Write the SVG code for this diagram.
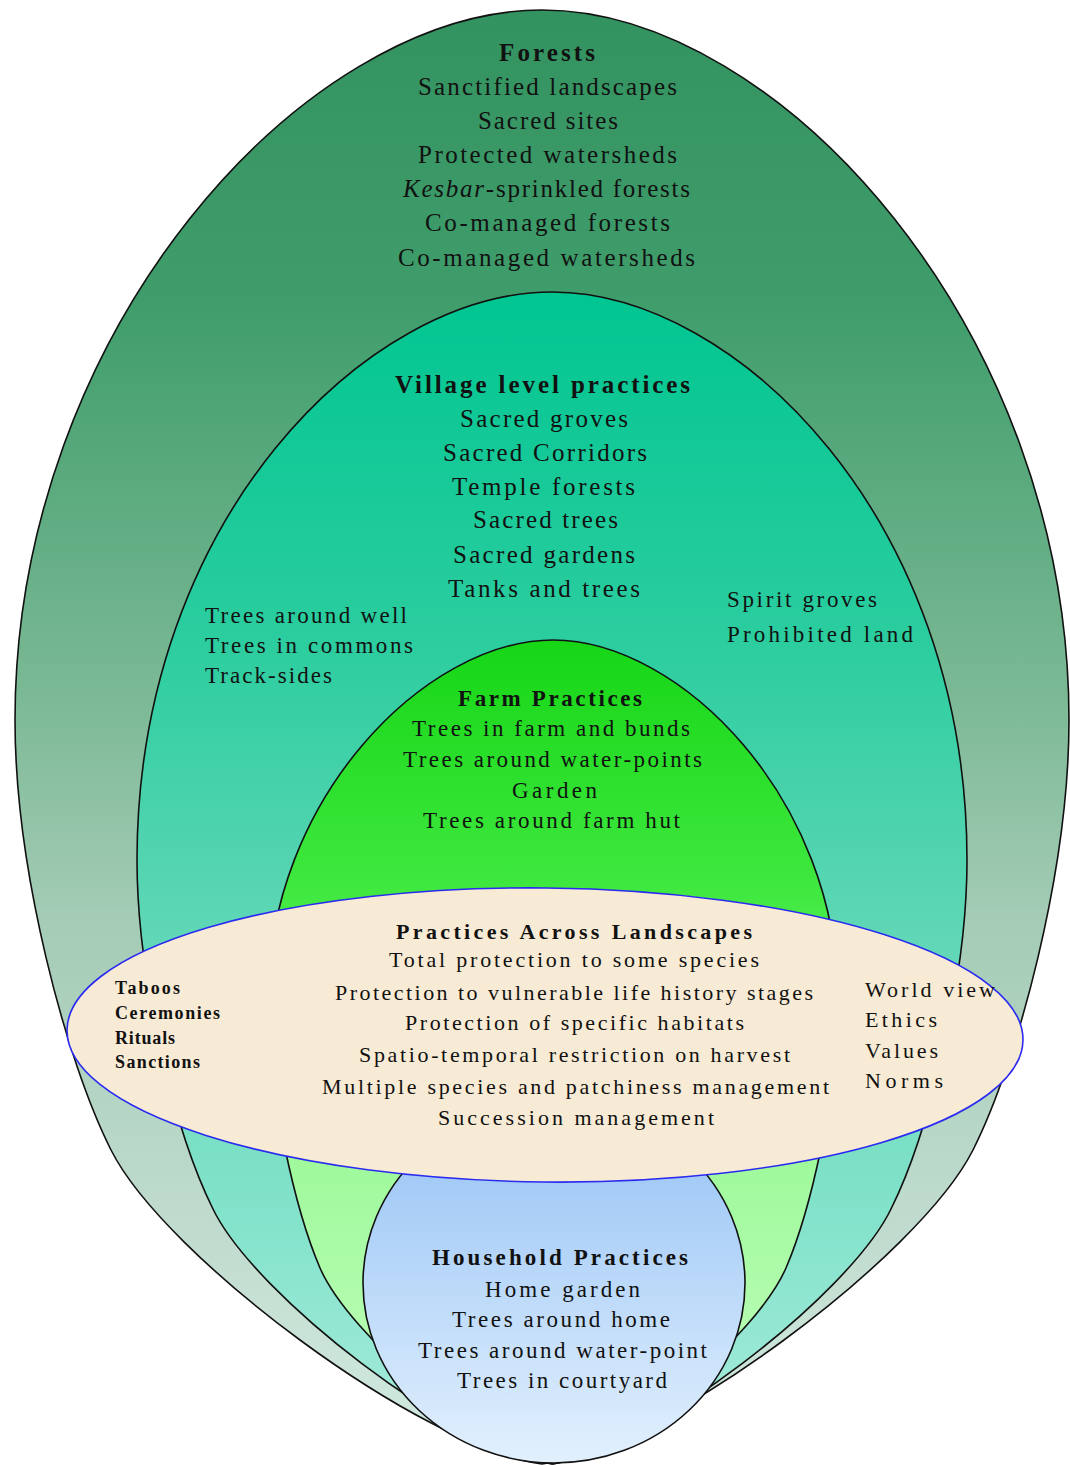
<svg xmlns="http://www.w3.org/2000/svg" width="1070" height="1465" viewBox="0 0 1070 1465">
<defs>
<linearGradient id="gForest" gradientUnits="userSpaceOnUse" x1="0" y1="10" x2="0" y2="1464">
<stop offset="0" stop-color="#339360"/><stop offset="0.2" stop-color="#3f9d6b"/><stop offset="0.47" stop-color="#7bb995"/><stop offset="0.62" stop-color="#a3cbb5"/><stop offset="0.85" stop-color="#c2ddd0"/><stop offset="1" stop-color="#d3ebe1"/>
</linearGradient>
<linearGradient id="gVillage" gradientUnits="userSpaceOnUse" x1="0" y1="292" x2="0" y2="1464">
<stop offset="0" stop-color="#00c691"/><stop offset="0.3" stop-color="#2ccd9f"/><stop offset="0.55" stop-color="#60d7b6"/><stop offset="0.8" stop-color="#85e3cc"/><stop offset="1" stop-color="#a8ecdc"/>
</linearGradient>
<linearGradient id="gFarm" gradientUnits="userSpaceOnUse" x1="0" y1="640" x2="0" y2="1464">
<stop offset="0" stop-color="#16d616"/><stop offset="0.3" stop-color="#3fe83f"/><stop offset="0.45" stop-color="#66f066"/><stop offset="0.62" stop-color="#9ef99a"/><stop offset="1" stop-color="#c4ffc0"/>
</linearGradient>
<linearGradient id="gHouse" gradientUnits="userSpaceOnUse" x1="0" y1="1100" x2="0" y2="1463">
<stop offset="0" stop-color="#93c1f5"/><stop offset="1" stop-color="#e2f0fd"/>
</linearGradient>
<style>
.shape{stroke:#111;stroke-width:1.6}
.t{font-family:"Liberation Serif","Times New Roman",serif;fill:#111;font-size:25px}
.b{font-weight:bold}
.m{font-size:23px}
.s{font-size:22px}
.xs{font-size:18px;font-weight:bold}
</style>
</defs>
<g id="forests">
<path class="shape" fill="url(#gForest)" d="M542,10 C305,10 15,330 15,720 C15,870 66,1061 111,1150 C165,1257 420,1447 542,1464 C664,1447 919,1257 973,1150 C1018,1061 1069,870 1069,720 C1069,330 779,10 542,10 Z"/>
<text class="t b" x="499" y="61" textLength="96" lengthAdjust="spacing">Forests</text>
<text class="t" x="418" y="95" textLength="259" lengthAdjust="spacing">Sanctified landscapes</text>
<text class="t" x="478" y="129" textLength="140" lengthAdjust="spacing">Sacred sites</text>
<text class="t" x="418" y="163" textLength="259" lengthAdjust="spacing">Protected watersheds</text>
<text class="t" x="403" y="197" textLength="287" lengthAdjust="spacing"><tspan font-style="italic">Kesbar</tspan>-sprinkled forests</text>
<text class="t" x="425" y="231" textLength="245" lengthAdjust="spacing">Co-managed forests</text>
<text class="t" x="398" y="266" textLength="297" lengthAdjust="spacing">Co-managed watersheds</text>
</g>
<g id="village">
<path class="shape" fill="url(#gVillage)" d="M552,292 C367,292 137,520 137,860 C137,982 177,1137 213,1209 C255,1296 456,1450 552,1464 C648,1450 849,1296 891,1209 C927,1137 967,982 967,860 C967,520 737,292 552,292 Z"/>
<text class="t b" x="395" y="393" textLength="295" lengthAdjust="spacing">Village level practices</text>
<text class="t" x="460" y="427" textLength="168" lengthAdjust="spacing">Sacred groves</text>
<text class="t" x="443" y="461" textLength="204" lengthAdjust="spacing">Sacred Corridors</text>
<text class="t" x="452" y="495" textLength="183" lengthAdjust="spacing">Temple forests</text>
<text class="t" x="473" y="528" textLength="145" lengthAdjust="spacing">Sacred trees</text>
<text class="t" x="453" y="563" textLength="182" lengthAdjust="spacing">Sacred gardens</text>
<text class="t" x="448" y="597" textLength="192" lengthAdjust="spacing">Tanks and trees</text>
<text class="t m" x="205" y="623" textLength="202" lengthAdjust="spacing">Trees around well</text>
<text class="t m" x="205" y="653" textLength="208" lengthAdjust="spacing">Trees in commons</text>
<text class="t m" x="205" y="683" textLength="127" lengthAdjust="spacing">Track-sides</text>
<text class="t m" x="727" y="607" textLength="150" lengthAdjust="spacing">Spirit groves</text>
<text class="t m" x="727" y="642" textLength="186" lengthAdjust="spacing">Prohibited land</text>
</g>
<g id="farm">
<path class="shape" fill="url(#gFarm)" d="M553,640 C425,640 268,800 268,1000 C268,1094 296,1212 320,1268 C349,1335 487,1453 553,1464 C619,1453 757,1335 786,1268 C810,1212 838,1094 838,1000 C838,800 681,640 553,640 Z"/>
<text class="t b m" x="458" y="706" textLength="184" lengthAdjust="spacing">Farm Practices</text>
<text class="t m" x="412" y="736" textLength="278" lengthAdjust="spacing">Trees in farm and bunds</text>
<text class="t m" x="403" y="767" textLength="299" lengthAdjust="spacing">Trees around water-points</text>
<text class="t m" x="512" y="798" textLength="85" lengthAdjust="spacing">Garden</text>
<text class="t m" x="423" y="828" textLength="257" lengthAdjust="spacing">Trees around farm hut</text>
</g>
<g id="household">
<ellipse class="shape" fill="url(#gHouse)" cx="554" cy="1283" rx="191" ry="180"/>
<text class="t b m" x="432" y="1265" textLength="256" lengthAdjust="spacing">Household Practices</text>
<text class="t m" x="485" y="1297" textLength="155" lengthAdjust="spacing">Home garden</text>
<text class="t m" x="452" y="1327" textLength="218" lengthAdjust="spacing">Trees around home</text>
<text class="t m" x="418" y="1358" textLength="289" lengthAdjust="spacing">Trees around water-point</text>
<text class="t m" x="457" y="1388" textLength="210" lengthAdjust="spacing">Trees in courtyard</text>
</g>
<g id="landscapes">
<ellipse cx="545" cy="1035" rx="478" ry="147" fill="#f8ebd5" stroke="#2a2af0" stroke-width="1.6" transform="rotate(0.6 545 1035)"/>
<text class="t b s" x="396" y="939" textLength="356" lengthAdjust="spacing">Practices Across Landscapes</text>
<text class="t s" x="389" y="967" textLength="370" lengthAdjust="spacing">Total protection to some species</text>
<text class="t s" x="335" y="1000" textLength="478" lengthAdjust="spacing">Protection to vulnerable life history stages</text>
<text class="t s" x="405" y="1030" textLength="339" lengthAdjust="spacing">Protection of specific habitats</text>
<text class="t s" x="359" y="1062" textLength="431" lengthAdjust="spacing">Spatio-temporal restriction on harvest</text>
<text class="t s" x="322" y="1094" textLength="507" lengthAdjust="spacing">Multiple species and patchiness management</text>
<text class="t s" x="438" y="1125" textLength="276" lengthAdjust="spacing">Succession management</text>
<text class="t xs" x="115" y="994" textLength="65" lengthAdjust="spacing">Taboos</text>
<text class="t xs" x="115" y="1019" textLength="105" lengthAdjust="spacing">Ceremonies</text>
<text class="t xs" x="115" y="1044" textLength="60" lengthAdjust="spacing">Rituals</text>
<text class="t xs" x="115" y="1068" textLength="85" lengthAdjust="spacing">Sanctions</text>
<text class="t s" x="865" y="997" textLength="130" lengthAdjust="spacing">World view</text>
<text class="t s" x="865" y="1027" textLength="72" lengthAdjust="spacing">Ethics</text>
<text class="t s" x="865" y="1058" textLength="73" lengthAdjust="spacing">Values</text>
<text class="t s" x="865" y="1088" textLength="78" lengthAdjust="spacing">Norms</text>
</g>
<g id="connectors"/>
</svg>
